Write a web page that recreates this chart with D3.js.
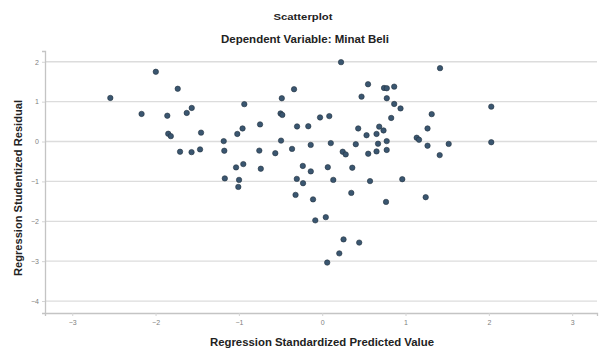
<!DOCTYPE html>
<html>
<head>
<meta charset="utf-8">
<script src="https://cdn.jsdelivr.net/npm/d3@7"></script>
<style>
  body { margin: 0; background: #fff; }
  svg { display: block; font-family: "Liberation Sans", Arial, sans-serif; }
</style>
</head>
<body>
<div id="chart"></div>
<script>
// Regression Standardized Predicted Value (x) and Studentized Residual (y)
const predicted = [
  -2.543, -2.168, -1.997, -1.859, -1.734, -1.626, -1.566, -1.848, -1.817, -1.454,
  -1.706, -1.568, -1.466, -1.182, -1.175, -1.019, -0.956, -0.935, -1.034, -0.947,
  -0.737, -1.169, -0.998, -1.007, -0.746, -0.755, -0.563, -0.485, -0.338, -0.500,
  -0.479, -0.494, -0.362, -0.302, -0.167, -0.138, -0.026, 0.085, 0.103, 0.226,
  0.246, 0.282, -0.233, -0.137, 0.067, -0.305, -0.230, 0.133, -0.320, -0.110,
  -0.083, 0.043, 0.256, 0.444, 0.205, 0.060, 0.361, 0.574, 0.961, 0.349,
  0.766, 1.242, 0.403, 0.432, 0.472, 0.550, 0.532, 0.552, 0.652, 0.652,
  0.670, 0.684, 0.736, 0.742, 0.775, 0.864, 0.775, 0.774, 0.774, 0.828,
  0.864, 0.940, 1.134, 1.162, 1.264, 1.264, 1.314, 1.414, 1.410, 1.518,
  2.029, 2.029
];
const residual = [
  1.093, 0.692, 1.749, 0.647, 1.323, 0.717, 0.842, 0.195, 0.135, 0.223,
  -0.256, -0.266, -0.198, 0.010, -0.231, 0.190, 0.328, 0.937, -0.649, -0.566,
  -0.682, -0.925, -0.962, -1.138, 0.429, -0.228, -0.293, 1.085, 1.311, 0.704,
  0.667, 0.023, -0.185, 0.378, 0.383, -0.085, 0.604, 0.637, -0.040, 1.990,
  -0.256, -0.323, -0.612, -0.749, -0.644, -0.937, -1.045, -0.962, -1.338, -1.451,
  -1.977, -1.897, -2.454, -2.534, -2.805, -3.035, -0.657, -0.992, -0.945, -1.288,
  -1.514, -1.396, -0.068, 0.328, 1.125, 1.436, 0.158, -0.306, 0.190, -0.248,
  -0.055, 0.373, 0.278, 1.343, 1.336, 1.376, 1.085, 0.010, -0.211, 0.591,
  0.942, 0.830, 0.095, 0.045, 0.328, -0.105, 0.687, 1.840, -0.341, -0.060,
  0.875, -0.018
];
const xTicks = [-3, -2, -1, 0, 1, 2, 3];
const yTicks = [2, 1, 0, -1, -2, -3, -4];

const width = 599, height = 349;
const margin = { top: 51, right: 2, bottom: 36, left: 45 };

const svg = d3.select('#chart').append('svg')
  .attr('width', width)
  .attr('height', height);

const x = d3.scaleLinear()
  .domain([-3.327, 3.298])
  .range([margin.left, width - margin.right]);

const y = d3.scaleLinear()
  .domain([-4.3, 2.27])
  .range([height - margin.bottom, margin.top]);

// horizontal grid lines
svg.append('g')
  .selectAll('line')
  .data(yTicks)
  .join('line')
  .attr('x1', margin.left)
  .attr('x2', width - margin.right)
  .attr('y1', d => y(d))
  .attr('y2', d => y(d))
  .attr('stroke', '#dcdcdc')
  .attr('stroke-width', 1.3);

// axes
const yAxis = svg.append('g')
  .attr('transform', `translate(${margin.left},0)`)
  .call(d3.axisLeft(y).tickValues(yTicks).tickSize(3).tickPadding(3).tickFormat(d3.format('d')));

const xAxis = svg.append('g')
  .attr('transform', `translate(0,${height - margin.bottom})`)
  .call(d3.axisBottom(x).tickValues(xTicks).tickSize(3).tickPadding(4).tickFormat(d3.format('d')));

[yAxis, xAxis].forEach(a => {
  a.select('.domain').attr('stroke', '#c4c4c4').attr('stroke-width', 1.3);
  a.selectAll('.tick line').attr('stroke', '#d4d4d4');
  a.selectAll('.tick text')
    .attr('fill', '#808080')
    .style('font-size', '7px')
    .style('font-family', '"Liberation Sans", Arial, sans-serif');
});

// points
svg.append('g')
  .selectAll('circle')
  .data(predicted.map((p, i) => [p, residual[i]]))
  .join('circle')
  .attr('cx', d => x(d[0]))
  .attr('cy', d => y(d[1]))
  .attr('r', 2.7)
  .attr('fill', '#3a5670')
  .attr('stroke', '#23323f')
  .attr('stroke-width', 0.6);

// titles (text is stretched a bit wider, as in the source image)
function label(txt, xPos, yPos, size, len, rotate) {
  const t = svg.append('text')
    .attr('text-anchor', 'middle')
    .style('font-size', size + 'px')
    .style('font-weight', 'bold')
    .attr('fill', '#222')
    .attr('textLength', len)
    .attr('lengthAdjust', 'spacingAndGlyphs')
    .text(txt);
  if (rotate) t.attr('transform', `translate(${xPos},${yPos}) rotate(-90)`);
  else t.attr('x', xPos).attr('y', yPos);
}

label('Scatterplot', 303, 20, 9.5, 59);
label('Dependent Variable: Minat Beli', 305, 43, 10, 168);
label('Regression Standardized Predicted Value', 322, 346, 10.5, 224);
label('Regression Studentized Residual', 22, 188, 10, 176, true);
</script>
</body>
</html>
